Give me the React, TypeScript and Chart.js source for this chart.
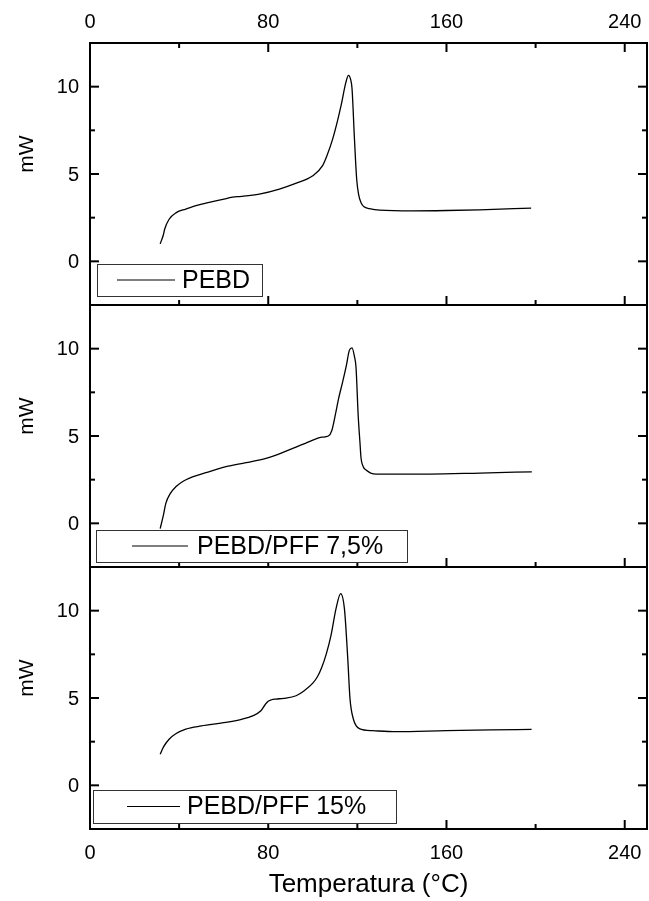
import { useEffect, useRef } from 'react';
import { Chart, registerables } from 'chart.js';

Chart.register(...registerables);

// ---- data ----
const tempPEBD = [31.5, 33, 33.5, 35.5, 38.7, 43, 48, 53.5, 58, 62, 64, 68, 76, 85, 92, 100, 104.4, 106.5, 108.9, 111, 112.7, 114.9, 116, 117, 117.6, 118.7, 119.7, 120.6, 121.6, 123, 125.4, 130, 144.8, 160, 174.8, 198];
const mwPEBD = [1.0, 1.55, 1.84, 2.41, 2.79, 2.99, 3.2, 3.37, 3.5, 3.62, 3.68, 3.72, 3.85, 4.14, 4.45, 4.9, 5.48, 6.1, 7.0, 8.0, 8.93, 10.27, 10.65, 10.4, 9.9, 7.0, 4.7, 3.8, 3.37, 3.12, 3.02, 2.93, 2.89, 2.91, 2.95, 3.05];

const tempPFF75 = [31.5, 33, 34, 36, 38.5, 42, 46, 52, 61, 70, 79, 85, 91, 96, 100, 104, 107, 108.5, 110.4, 111.5, 113.4, 115, 116.4, 117.6, 118.7, 119.4, 120.4, 121.2, 121.6, 122.7, 123.9, 126, 128.4, 140, 152.4, 175, 198.3];
const mwPFF75 = [-0.3, 0.5, 1.13, 1.7, 2.09, 2.42, 2.66, 2.9, 3.24, 3.47, 3.72, 3.98, 4.29, 4.55, 4.77, 4.93, 5.0, 5.3, 6.4, 7.1, 8.1, 9.0, 9.9, 10.05, 9.55, 8.92, 6.1, 4.57, 3.8, 3.23, 3.05, 2.88, 2.82, 2.82, 2.82, 2.88, 2.95];

const tempPFF15 = [31.5, 33, 35.5, 38.5, 43, 50, 61, 68, 73, 76.7, 78.5, 79.7, 81.5, 83.4, 87, 92.5, 96, 100, 102, 104, 106, 108.2, 110.4, 112.5, 114.2, 115.7, 116.7, 118.2, 120.9, 126.9, 137.4, 159.8, 180, 198.2];
const mwPFF15 = [1.78, 2.2, 2.64, 2.95, 3.22, 3.4, 3.6, 3.78, 3.98, 4.27, 4.6, 4.79, 4.9, 4.94, 4.98, 5.13, 5.4, 5.85, 6.2, 6.75, 7.5, 8.6, 10.1, 10.98, 10.1, 7.24, 4.95, 3.8, 3.25, 3.13, 3.07, 3.13, 3.17, 3.2];

const seriesLabels = ['PEBD', 'PEBD/PFF 7,5%', 'PEBD/PFF 15%'];
const xMajorTicks = [0, 80, 160, 240];
const xMinorTicks = [40, 120, 200];
const yMajorTicks = [0, 5, 10];
const yMinorTicks = [2.5, 7.5];
const xTitle = 'Temperatura (°C)';
const yTitle = 'mW';

// ---- layout / style ----
const FONT = "'Liberation Sans', Arial, Helvetica, sans-serif";
const panelIds = ['y1', 'y2', 'y3'];
const legendLayout = [
  { left: 97, right: 262, topOff: 41, botOff: 9, line1: 117, line2: 175, textX: 182 },
  { left: 96, right: 407, topOff: 37, botOff: 5, line1: 132, line2: 188, textX: 197 },
  { left: 93, right: 396, topOff: 39, botOff: 6, line1: 127, line2: 180, textX: 187 },
];

function toPoints(xs: number[], ys: number[]) {
  return xs.map((x, i) => ({ x, y: ys[i] }));
}

const framePlugin = {
  id: 'frame',
  afterDraw(chart: any) {
    const ctx = chart.ctx;
    const area = chart.chartArea;
    const xs = chart.scales.x;
    ctx.save();
    const seg = (x1: number, y1: number, x2: number, y2: number) => {
      ctx.beginPath();
      ctx.moveTo(x1, y1);
      ctx.lineTo(x2, y2);
      ctx.stroke();
    };
    panelIds.forEach((id, i) => {
      const ys = chart.scales[id];
      ctx.strokeStyle = '#000';
      ctx.lineWidth = 2;
      // y ticks, left and right, pointing inward
      yMajorTicks.forEach((v) => {
        const p = ys.getPixelForValue(v);
        seg(area.left, p, area.left + 9, p);
        seg(area.right, p, area.right - 9, p);
      });
      yMinorTicks.forEach((v) => {
        const p = ys.getPixelForValue(v);
        seg(area.left, p, area.left + 5, p);
        seg(area.right, p, area.right - 5, p);
      });
      // x ticks at panel bottom pointing up
      xMajorTicks.forEach((v) => {
        const p = xs.getPixelForValue(v);
        seg(p, ys.bottom, p, ys.bottom - 9);
      });
      xMinorTicks.forEach((v) => {
        const p = xs.getPixelForValue(v);
        seg(p, ys.bottom, p, ys.bottom - 5);
      });
      if (i === 0) {
        xMajorTicks.forEach((v) => {
          const p = xs.getPixelForValue(v);
          seg(p, ys.top, p, ys.top + 9);
        });
        xMinorTicks.forEach((v) => {
          const p = xs.getPixelForValue(v);
          seg(p, ys.top, p, ys.top + 5);
        });
      }
      ctx.strokeRect(area.left, ys.top, area.right - area.left, ys.bottom - ys.top);

      // y tick labels
      ctx.fillStyle = '#000';
      ctx.font = `20px ${FONT}`;
      ctx.textAlign = 'right';
      ctx.textBaseline = 'middle';
      yMajorTicks.forEach((v) => {
        ctx.fillText(String(v), area.left - 11, ys.getPixelForValue(v) + 1);
      });

      // legend box
      const L = legendLayout[i];
      const top = ys.bottom - L.topOff;
      const bot = ys.bottom - L.botOff;
      ctx.fillStyle = '#fff';
      ctx.fillRect(L.left, top, L.right - L.left, bot - top);
      ctx.lineWidth = 1;
      ctx.strokeStyle = '#333';
      ctx.strokeRect(L.left + 0.5, top + 0.5, L.right - L.left, bot - top);
      const cy = (top + bot) / 2;
      ctx.strokeStyle = '#000';
      ctx.lineWidth = 1.2;
      seg(L.line1, cy, L.line2, cy);
      ctx.fillStyle = '#000';
      ctx.font = `25px ${FONT}`;
      ctx.textAlign = 'left';
      ctx.textBaseline = 'middle';
      ctx.fillText(seriesLabels[i], L.textX, cy + 1);

      // y title
      ctx.save();
      ctx.translate(27, ys.getPixelForValue(6.14));
      ctx.rotate(-Math.PI / 2);
      ctx.textAlign = 'center';
      ctx.textBaseline = 'middle';
      ctx.font = `21px ${FONT}`;
      ctx.fillText(yTitle, 0, 0);
      ctx.restore();
    });
    ctx.restore();
  },
};

export default function App() {
  const ref = useRef<HTMLCanvasElement | null>(null);
  useEffect(() => {
    if (!ref.current) return;
    const tickFont = { family: FONT, size: 20 };
    const xTickCb = (v: any) => (xMajorTicks.includes(Number(v)) ? String(v) : '');
    const yScale = (weight: number) => ({
      type: 'linear',
      position: 'left',
      stack: 'panels',
      stackWeight: 1,
      weight,
      min: -2.5,
      max: 12.5,
      ticks: { display: false, stepSize: 2.5 },
      grid: { display: false, drawTicks: false },
      border: { display: false },
      afterFit: (s: any) => { s.width = 90; s.paddingTop = 0; s.paddingBottom = 0; },
    });
    const fitX = (h: number) => (s: any) => {
      s.height = h;
      s.paddingLeft = 0;
      s.paddingRight = 0;
    };
    const chart = new Chart(ref.current, {
      type: 'line',
      data: {
        datasets: [
          { label: seriesLabels[0], data: toPoints(tempPEBD, mwPEBD), xAxisID: 'x', yAxisID: 'y1' },
          { label: seriesLabels[1], data: toPoints(tempPFF75, mwPFF75), xAxisID: 'x', yAxisID: 'y2' },
          { label: seriesLabels[2], data: toPoints(tempPFF15, mwPFF15), xAxisID: 'x', yAxisID: 'y3' },
        ].map((d) => ({
          ...d,
          borderColor: '#000',
          borderWidth: 1.3,
          pointRadius: 0,
          fill: false,
          cubicInterpolationMode: 'monotone' as const,
        })),
      },
      options: {
        responsive: false,
        animation: false,
        events: [],
        layout: { padding: { left: 0, right: 2, top: 0, bottom: 0 } },
        plugins: { legend: { display: false }, tooltip: { enabled: false } },
        scales: {
          x: {
            type: 'linear',
            position: 'bottom',
            min: 0,
            max: 250,
            ticks: { stepSize: 40, includeBounds: false, callback: xTickCb, font: tickFont, color: '#000', padding: 12, autoSkip: false, maxRotation: 0 },
            grid: { display: false, drawTicks: false },
            border: { display: false },
            title: { display: true, text: xTitle, font: { family: FONT, size: 26 }, color: '#000', padding: { top: 0, bottom: 1 } },
            afterFit: fitX(72),
          },
          xTop: {
            type: 'linear',
            position: 'top',
            min: 0,
            max: 250,
            ticks: { stepSize: 40, includeBounds: false, callback: xTickCb, font: tickFont, color: '#000', padding: 9, autoSkip: false, maxRotation: 0 },
            grid: { display: false, drawTicks: false },
            border: { display: false },
            afterFit: fitX(43),
          },
          y1: yScale(3),
          y2: yScale(2),
          y3: yScale(1),
        } as any,
      },
      plugins: [framePlugin],
    } as any);
    return () => chart.destroy();
  }, []);
  return (
    <div style={{ position: 'fixed', left: 0, top: 0, width: 649, height: 901, background: '#fff' }}>
      <canvas ref={ref} width={649} height={901} style={{ display: 'block' }} />
    </div>
  );
}
